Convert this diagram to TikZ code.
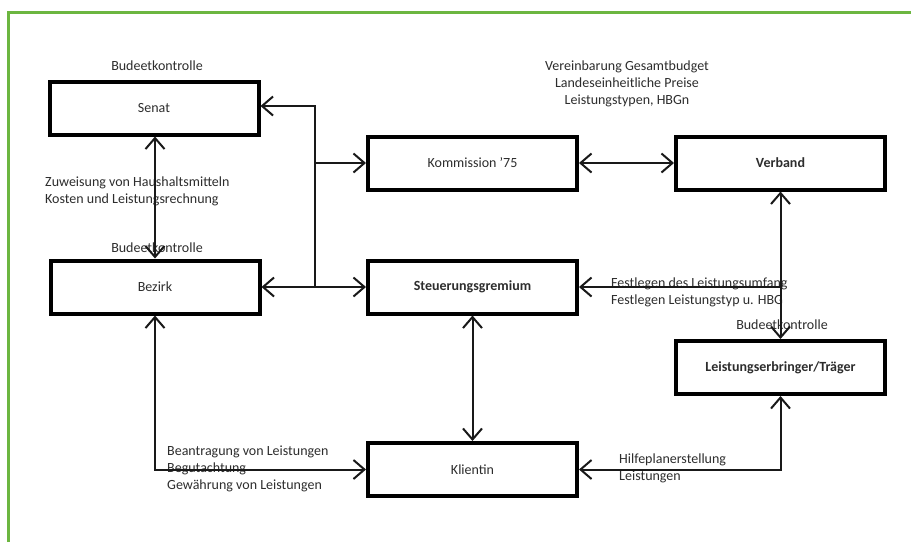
\documentclass[tikz,border=0pt]{standalone}
\usepackage{fontspec}
\setmainfont{Carlito}
\usetikzlibrary{arrows.meta}
\definecolor{framegreen}{RGB}{108,182,64}
\definecolor{txt}{RGB}{45,45,45}
\tikzset{
  box/.style={draw=black, line width=4pt, minimum width=209pt, minimum height=53pt, inner sep=0pt, text=txt, font=\fontsize{14}{17}\selectfont},
  lbl/.style={inner sep=0pt, text=txt, font=\fontsize{14}{17}\selectfont},
  conn/.style={line width=2pt, draw=black!90},
  >={Straight Barb[length=11pt,width=19pt]}
}
\begin{document}
\begin{tikzpicture}[x=1pt,y=-1pt]
\useasboundingbox (0,0) rectangle (911,542);
\fill[white] (0,0) rectangle (911,542);
\draw[framegreen, line width=3pt] (8.5,542) -- (8.5,12.5) -- (911,12.5);

% labels
\node[lbl] (l1) at (157,66) {Budeetkontrolle};
\node[lbl, align=center] (l2) at (627,83.5) {Vereinbarung Gesamtbudget\\Landeseinheitliche Preise\\Leistungstypen, HBGn};
\node[lbl, align=left, anchor=west] (l3) at (45,191) {Zuweisung von Haushaltsmitteln\\Kosten und Leistungsrechnung};
\node[lbl] (l4) at (157,248) {Budeetkontrolle};
\node[lbl, align=left, anchor=west] (l5) at (611,292) {Festlegen des Leistungsumfang\\Festlegen Leistungstyp u. HBG};
\node[lbl] (l6) at (782,325) {Budeetkontrolle};
\node[lbl, align=left, anchor=west] (l7) at (167,469) {Beantragung von Leistungen\\Begutachtung\\Gewährung von Leistungen};
\node[lbl, align=left, anchor=west] (l8) at (619,468) {Hilfeplanerstellung\\Leistungen};

% boxes
\node[box] (senat) at (154,108) {Senat};
\node[box] (komm) at (472.5,163) {Kommission '75};
\node[box] (verband) at (780.5,163) {\bfseries Verband};
\node[box] (bezirk) at (155,287) {Bezirk};
\node[box] (steuer) at (472.5,287) {\bfseries Steuerungsgremium};
\node[box] (le) at (780.5,367.5) {\bfseries Leistungserbringer/Träger};
\node[box] (klient) at (472.5,469.5) {Klientin};

% junction coordinates
\coordinate (jb) at (315,287);
\coordinate (jk) at (315,163);
\coordinate (jt) at (315,106);
\coordinate (jv) at (780.5,287);

% connectors
\draw[conn,<->] (senat.south -| bezirk.north) -- (bezirk.north);
\draw[conn,<->] (bezirk.east) -- (steuer.west);
\draw[conn,->] (jb) -- (jt) -- (jt -| senat.east);
\draw[conn,->] (jk) -- (komm.west);
\draw[conn,<->] (komm.east) -- (verband.west);
\draw[conn,<->] (verband.south) -- (le.north);
\draw[conn,->] (jv) -- (steuer.east);
\draw[conn,<->] (steuer.south) -- (klient.north);
\draw[conn,<->] (bezirk.south) |- (klient.west);
\draw[conn,<->] (le.south) |- (klient.east);
\end{tikzpicture}
\end{document}
